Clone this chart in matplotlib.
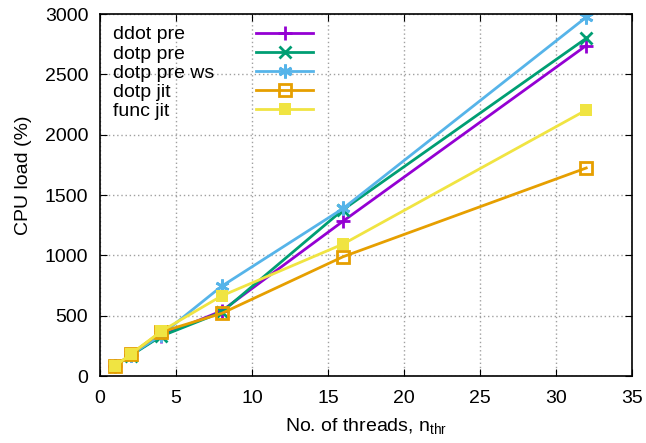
import numpy as np
import matplotlib.pyplot as plt

threads = [1, 2, 4, 8, 16, 32]
ddot_pre = [85, 175, 335, 540, 1285, 2740]
dotp_pre = [85, 170, 330, 530, 1380, 2800]
dotp_pre_ws = [85, 175, 340, 745, 1390, 2975]
dotp_jit = [80, 180, 365, 520, 990, 1725]
func_jit = [85, 180, 370, 665, 1095, 2205]

series = [
    ("ddot pre", ddot_pre, "#9400d3", "+", dict(ms=10, mew=2)),
    ("dotp pre", dotp_pre, "#009e73", "x", dict(ms=8, mew=2)),
    ("dotp pre ws", dotp_pre_ws, "#56b4e9", (6, 2, 0), dict(ms=10, mew=2)),
    ("dotp jit", dotp_jit, "#e69f00", "s", dict(ms=9, mew=2, mfc="none")),
    ("func jit", func_jit, "#f0e442", "s", dict(ms=9, mew=0)),
]

plt.rcParams['font.family'] = ['Liberation Sans', 'DejaVu Sans']
plt.rcParams['mathtext.fontset'] = 'custom'
plt.rcParams['mathtext.rm'] = 'Liberation Sans'
fig = plt.figure(figsize=(6.46, 4.43), dpi=100)
ax = fig.add_axes([0.155, 0.151, 0.823, 0.817])

lines = []
for name, vals, c, m, kw in series:
    ln, = ax.plot(threads, vals, color=c, lw=2, marker=m, label=name, **kw)
    lines.append(ln)

ax.set_xlim(0, 35)
ax.set_ylim(0, 3000)
ax.set_xticks(np.arange(0, 36, 5))
ax.set_yticks(np.arange(0, 3001, 500))
ax.grid(True, color="#a0a0a0", linestyle=(0, (1, 2)), lw=1)
ax.tick_params(direction="in", top=True, right=True, labelsize=14, length=5)
ax.tick_params(axis="x", pad=10)
ax.tick_params(axis="y", pad=8.5)
for s in ax.spines.values():
    s.set_linewidth(1.2)
ax.set_xlabel(r"No. of threads, n$_{\mathrm{thr}}$", fontsize=14, labelpad=7)
ax.set_ylabel("CPU load (%)", fontsize=14)
ax.yaxis.set_label_coords(-0.128, 0.555)

# gnuplot-style key: labels left-aligned, samples in a column on the right
leg1 = ax.legend(lines, [s[0] for s in series], loc="upper left",
                 bbox_to_anchor=(0.024, 0.968), frameon=False, fontsize=14,
                 handlelength=0, handletextpad=0, labelspacing=0.08,
                 borderaxespad=0, borderpad=0)
for h in leg1.legend_handles:
    h.set_visible(False)
ax.add_artist(leg1)
leg2 = ax.legend(lines, [" "] * len(lines), loc="upper right",
                 bbox_to_anchor=(0.41, 0.968), frameon=False, fontsize=14,
                 handlelength=2.9, handletextpad=0, labelspacing=0.08,
                 borderaxespad=0, borderpad=0)

fig.savefig("out.png", dpi=100)
